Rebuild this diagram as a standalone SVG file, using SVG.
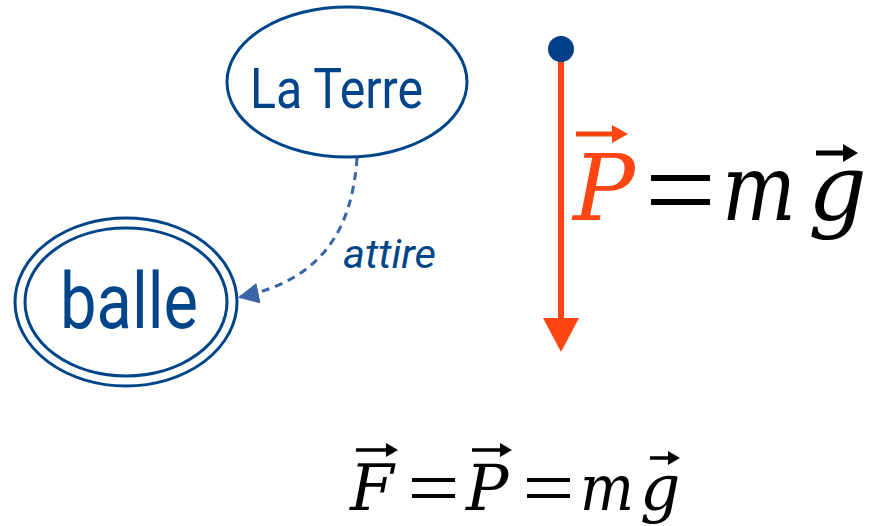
<svg xmlns="http://www.w3.org/2000/svg" width="877" height="526" viewBox="0 0 877 526">
<style>
.node{fill:#fff;stroke:#00458a;stroke-width:3}
.lbl{font-family:Roboto,"Liberation Sans",sans-serif;fill:#00458a}
.math{font-family:"DejaVu Serif","Liberation Serif",serif;font-style:italic}
</style>
<defs>
<marker id="ah" viewBox="0 0 10 10" refX="9" refY="5" markerWidth="7" markerHeight="7" orient="auto" markerUnits="strokeWidth">
<path d="M0,0 L10,5 L0,10 z" fill="#3a65a8"/>
</marker>
</defs>
<g id="connectors">
<path d="M357,158 C352,230 322,280 240,297" fill="none" stroke="#3a65a8" stroke-width="3" stroke-dasharray="8,6" marker-end="url(#ah)"/>
<text class="lbl" x="343" y="268" font-size="40" font-style="italic" textLength="93" lengthAdjust="spacingAndGlyphs" fill="#1f4f8f">attire</text>
</g>
<g id="terre">
<ellipse class="node" cx="347" cy="82" rx="120" ry="75"/>
<text class="lbl" x="250" y="108" font-size="56" textLength="173" lengthAdjust="spacingAndGlyphs">La Terre</text>
</g>
<g id="balle">
<ellipse class="node" cx="126" cy="302" rx="111" ry="84"/>
<ellipse class="node" cx="126" cy="302" rx="101" ry="74"/>
<text class="lbl" x="60" y="328" font-size="78" textLength="138" lengthAdjust="spacingAndGlyphs">balle</text>
</g>
<g id="poids">
<line x1="561" y1="49" x2="561" y2="322" stroke="#ff4511" stroke-width="6"/>
<polygon points="543,318 579,318 561,352" fill="#ff4511"/>
<circle cx="561" cy="49" r="13" fill="#003f87"/>
</g>
<g id="formule1">
<text class="math" x="573" y="220" font-size="92" fill="#ff4511">P</text>
<line x1="576" y1="134" x2="620" y2="134" stroke="#ff4511" stroke-width="5"/>
<polygon points="612,125 628,134 612,143" fill="#ff4511"/>
<rect x="651" y="175" width="59" height="6" fill="#000"/>
<rect x="651" y="199" width="59" height="6" fill="#000"/>
<text class="math" x="722" y="220" font-size="92" fill="#000" textLength="74" lengthAdjust="spacingAndGlyphs">m</text>
<text class="math" x="808" y="220" font-size="92" fill="#000">g</text>
<line x1="816" y1="153" x2="850" y2="153" stroke="#000" stroke-width="5"/>
<polygon points="843,144 858,153 843,162" fill="#000"/>
</g>
<g id="formule2">
<text class="math" x="350" y="510" font-size="63" fill="#000">F</text>
<line x1="356" y1="450" x2="392" y2="450" stroke="#000" stroke-width="3.5"/>
<polygon points="386,443 398,450 386,457" fill="#000"/>
<rect x="412" y="478" width="43" height="4" fill="#000"/>
<rect x="412" y="494" width="43" height="4" fill="#000"/>
<text class="math" x="466" y="510" font-size="63" fill="#000">P</text>
<line x1="472" y1="450" x2="506" y2="450" stroke="#000" stroke-width="3.5"/>
<polygon points="500,443 512,450 500,457" fill="#000"/>
<rect x="527" y="478" width="43" height="4" fill="#000"/>
<rect x="527" y="494" width="43" height="4" fill="#000"/>
<text class="math" x="580" y="510" font-size="63" fill="#000" textLength="54" lengthAdjust="spacingAndGlyphs">m</text>
<text class="math" x="640" y="510" font-size="63" fill="#000">g</text>
<line x1="650" y1="458" x2="674" y2="458" stroke="#000" stroke-width="3.5"/>
<polygon points="668,451 680,458 668,465" fill="#000"/>
</g>
</svg>
